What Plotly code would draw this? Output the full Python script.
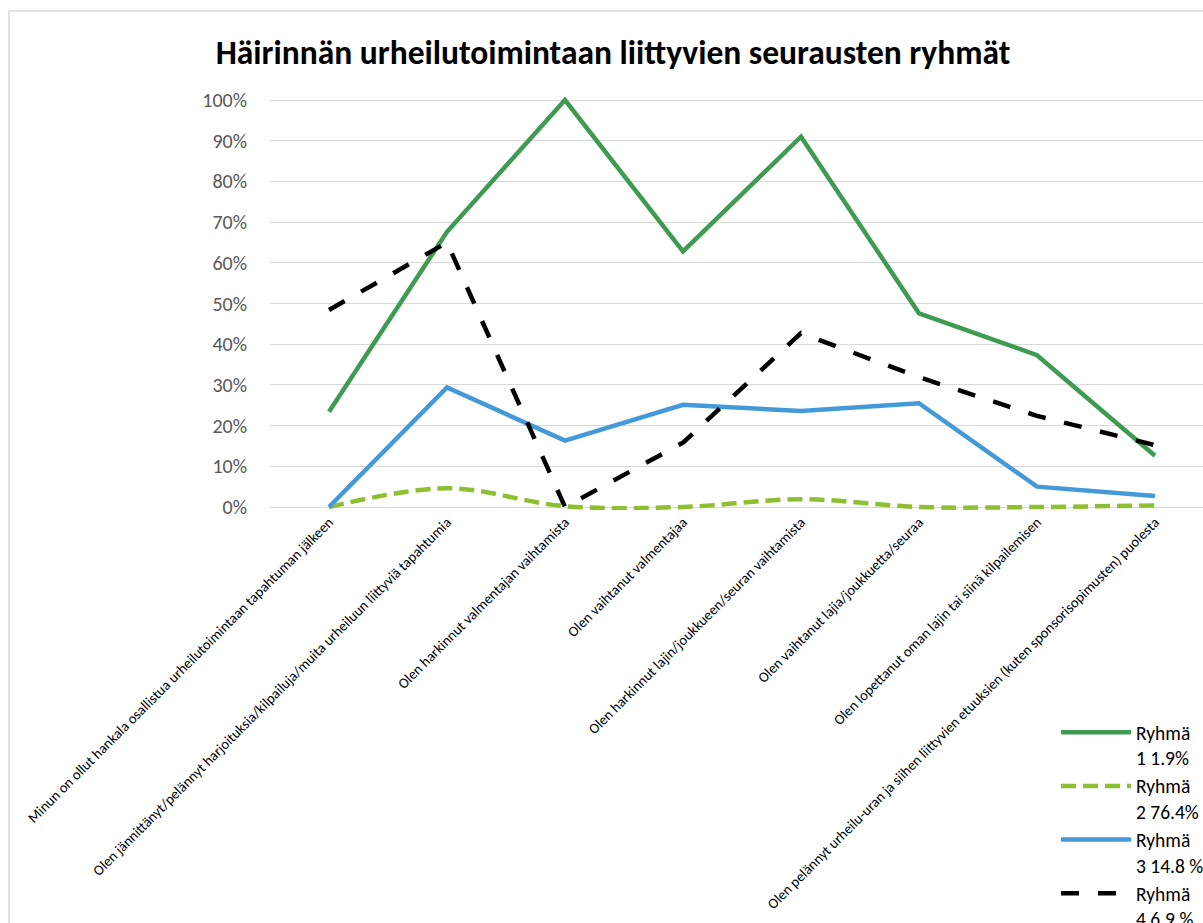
import plotly.graph_objects as go

# data (percent)
categories = [
    "Minun on ollut hankala osallistua urheilutoimintaan tapahtuman jälkeen",
    "Olen jännittänyt/pelännyt harjoituksia/kilpailuja/muita urheiluun liittyviä tapahtumia",
    "Olen harkinnut valmentajan vaihtamista",
    "Olen vaihtanut valmentajaa",
    "Olen harkinnut lajin/joukkueen/seuran vaihtamista",
    "Olen vaihtanut lajia/joukkuetta/seuraa",
    "Olen lopettanut oman lajin tai siinä kilpailemisen",
    "Olen pelännyt urheilu-uran ja siihen liittyvien etuuksien (kuten sponsorisopimusten) puolesta",
]
ryhma1 = [23.4, 67.6, 100.0, 62.8, 91.0, 47.6, 37.3, 12.6]
ryhma2 = [0.0, 4.6, 0.2, 0.0, 1.9, 0.0, 0.0, 0.4]
ryhma3 = [0.0, 29.4, 16.3, 25.1, 23.6, 25.5, 5.0, 2.7]
ryhma4 = [48.4, 65.0, 0.0, 15.8, 42.7, 31.9, 22.4, 15.2]
names = ["Ryhmä<br>1 1.9%", "Ryhmä<br>2 76.4%", "Ryhmä<br>3 14.8 %", "Ryhmä<br>4 6.9 %"]

FONT = "Carlito, Lato, sans-serif"

series = [
    (ryhma1, "#3f9b52", "solid", "linear"),
    (ryhma2, "#8dbf30", "15px,7px", "spline"),
    (ryhma3, "#449ad9", "solid", "linear"),
    (ryhma4, "#000000", "18px,19px", "linear"),
]

fig = go.Figure()
for (vals, col, dash, shape), nm in zip(series, names):
    fig.add_trace(go.Scatter(
        x=categories,
        y=[v / 100 for v in vals],
        name=nm,
        mode="lines",
        line=dict(color=col, width=4.5, dash=dash, shape=shape),
        cliponaxis=False,
    ))

# plot area: 0% at y=507, 100% at y=100, a little slack so the lines are not clipped
pad = 3 / 407

fig.update_layout(
    width=1203, height=923,
    margin=dict(l=270, r=0, t=97, b=413, autoexpand=False),
    paper_bgcolor="white", plot_bgcolor="white",
    font=dict(family=FONT, color="#000000"),
    title=dict(
        text="<b>Häirinnän urheilutoimintaan liittyvien seurausten ryhmät</b>",
        x=613 / 1203, xanchor="center", xref="container",
        y=1 - 52 / 923, yanchor="middle", yref="container",
        font=dict(family=FONT, size=33.5, color="#000000"),
    ),
    legend=dict(
        x=1056 / 1203, xanchor="left", xref="container",
        y=1 - 713 / 923, yanchor="top", yref="container",
        font=dict(family=FONT, size=19.5, color="#000000"),
        valign="top", itemwidth=70, maxheight=400,
        bgcolor="rgba(0,0,0,0)",
    ),
    # thin chart-area border (runs off the right and bottom edge like the original)
    shapes=[dict(
        type="rect", xref="paper", yref="paper",
        x0=(9 - 270) / 933, x1=1.05, y0=-1.1, y1=1 + (97 - 11) / 413,
        line=dict(color="#d9d9d9", width=1.5), layer="above",
    )],
)

fig.update_xaxes(
    range=[-0.5, 7.407],
    tickangle=-45,
    tickfont=dict(family=FONT, size=14.5, color="#000000"),
    showgrid=False, showline=False, ticks="", automargin=False,
)
fig.update_yaxes(
    range=[-pad, 1 + pad], dtick=0.1, tickformat=".0%",
    tickfont=dict(family=FONT, size=20, color="#595959"),
    gridcolor="#d9d9d9", gridwidth=1.3,
    zeroline=False, showline=False, automargin=False,
    ticklabelstandoff=22,
)

# page body has a default 8px margin; remove it so the figure sits at the top-left corner
fig.write_html("out.html", config={"displayModeBar": False},
               post_script="document.body.style.margin='0';")
